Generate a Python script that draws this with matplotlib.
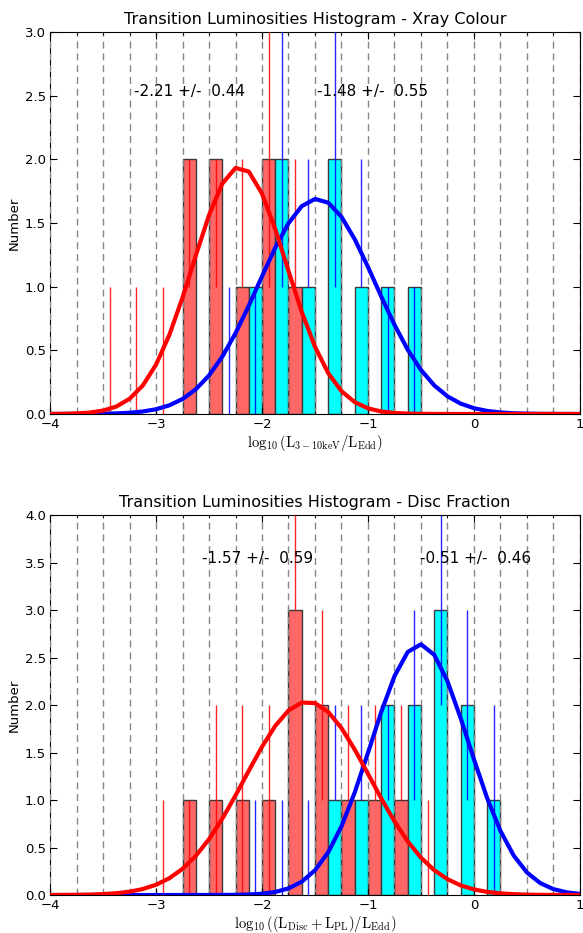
import numpy as np
import matplotlib.pyplot as plt
from matplotlib.ticker import MultipleLocator, FormatStrFormatter

plt.rcParams['mathtext.fontset'] = 'cm'
plt.rcParams['font.family'] = 'DejaVu Sans'

nan = np.nan

# ---- panel 1: x-ray colour ----
# left edges of the 0.25-wide bins and the counts in each half-bin
bins_xc = [-3.5, -3.25, -3.0, -2.75, -2.5, -2.25, -2.0, -1.75, -1.5, -1.25, -1.0, -0.75]
red_xc = [0, 0, 0, 2, 2, 1, 2, 1, 0, 0, 0, 0]
cyan_xc = [0, 0, 0, 0, 0, 1, 2, 1, 2, 1, 1, 1]
# vertical error lines (bottom / top) per half-bin
red_lo_xc = [0, 0, 0, 1, 1, 1, 1, 1, nan, nan, nan, nan]
red_hi_xc = [1, 1, 1, 2, 2, 2, 3, 2, nan, nan, nan, nan]
blue_lo_xc = [nan, nan, nan, nan, 0, 0, 1, 1, 1, 1, 0, 0]
blue_hi_xc = [nan, nan, nan, nan, 1, 1, 3, 2, 3, 2, 1, 1]
# gaussian fits: mean, sigma, amplitude
fit_red_xc = (-2.21, 0.44, 1.94)
fit_blue_xc = (-1.48, 0.55, 1.69)

# ---- panel 2: disc fraction ----
bins_df = [-3.0, -2.75, -2.5, -2.25, -2.0, -1.75, -1.5, -1.25, -1.0, -0.75, -0.5, -0.25, 0.0]
red_df = [0, 1, 1, 1, 1, 3, 2, 1, 1, 1, 0, 0, 0]
cyan_df = [0, 0, 0, 0, 0, 0, 1, 1, 2, 2, 3, 2, 1]
red_lo_df = [0, 0, 0, 0, 0, 3, 1, 1, 1, 1, 0, nan, nan]
red_hi_df = [1, 1, 2, 2, 2, 4, 3, 2, 2, 2, 1, nan, nan]
blue_lo_df = [nan, nan, nan, 0, 0, 0, 1, 1, 1, 1, 2, 1, 0]
blue_hi_df = [nan, nan, nan, 1, 1, 1, 2, 2, 2, 3, 4, 3, 2]
fit_red_df = (-1.57, 0.59, 2.035)
fit_blue_df = (-0.51, 0.46, 2.64)

BW = 0.25


def gauss(x, mu, sig, amp):
    return amp * np.exp(-0.5 * ((x - mu) / sig) ** 2)


def panel(ax, bins, red, cyan, rlo, rhi, blo, bhi, fr, fb, ymax, title, xlabel, txt_x, txt_y):
    bins = np.array(bins)
    red = np.array(red)
    cyan = np.array(cyan)
    m = red > 0
    ax.bar(bins[m], red[m], width=BW / 2, align='edge', color='#ff6666',
           edgecolor='#3a3a3a', lw=1, zorder=2)
    m = cyan > 0
    ax.bar(bins[m] + BW / 2, cyan[m], width=BW / 2, align='edge', color='#00ffff',
           edgecolor='#3a3a3a', lw=1, zorder=2)
    rlo, rhi = np.array(rlo, float), np.array(rhi, float)
    blo, bhi = np.array(blo, float), np.array(bhi, float)
    k = ~np.isnan(rlo)
    ax.vlines(bins[k] + BW / 4, rlo[k], rhi[k], color='red', lw=1, alpha=0.85, zorder=3)
    k = ~np.isnan(blo)
    ax.vlines(bins[k] + 3 * BW / 4, blo[k], bhi[k], color='blue', lw=1, alpha=0.85, zorder=3)

    xs = np.arange(-4, 1.0001, 0.125)
    ax.plot(xs, gauss(xs, *fb), color='blue', lw=3, zorder=4)
    ax.plot(xs, gauss(xs, *fr), color='red', lw=3, zorder=5)

    ax.text(txt_x[0], txt_y, '%.2f +/-  %.2f' % (fr[0], fr[1]), fontsize=11, zorder=6)
    ax.text(txt_x[1], txt_y, '%.2f +/-  %.2f' % (fb[0], fb[1]), fontsize=11, zorder=6)

    ax.set_xlim(-4, 1)
    ax.set_ylim(0, ymax)
    ax.xaxis.set_major_locator(MultipleLocator(1))
    ax.xaxis.set_minor_locator(MultipleLocator(0.25))
    ax.yaxis.set_major_locator(MultipleLocator(0.5))
    ax.yaxis.set_major_formatter(FormatStrFormatter('%.1f'))
    ax.grid(True, which='both', axis='x', ls=(0, (5, 3.5)), color='#888888', lw=1, zorder=3.5)
    ax.tick_params(which='both', direction='in', top=True, right=True, labelsize=9.5, pad=3)
    ax.tick_params(which='major', length=5)
    ax.tick_params(which='minor', length=2.5)
    ax.set_axisbelow(False)
    ax.set_title(title, fontsize=11.5, pad=6)
    ax.set_xlabel(xlabel, fontsize=10.5, labelpad=1)
    ax.set_ylabel('Number', fontsize=9.5, labelpad=3)


fig = plt.figure(figsize=(5.83, 9.33), dpi=100)
ax1 = fig.add_axes([0.0858, 0.5563, 0.909, 0.4094])
ax2 = fig.add_axes([0.0858, 0.0407, 0.909, 0.4073])

panel(ax1, bins_xc, red_xc, cyan_xc, red_lo_xc, red_hi_xc, blue_lo_xc, blue_hi_xc,
      fit_red_xc, fit_blue_xc, 3.0, 'Transition Luminosities Histogram - Xray Colour',
      r'$\log_{10}(\mathrm{L}_{3-10\mathrm{keV}}/\mathrm{L}_{\mathrm{Edd}})$',
      (-3.21, -1.48), 2.5)
panel(ax2, bins_df, red_df, cyan_df, red_lo_df, red_hi_df, blue_lo_df, blue_hi_df,
      fit_red_df, fit_blue_df, 4.0, 'Transition Luminosities Histogram - Disc Fraction',
      r'$\log_{10}((\mathrm{L}_{\mathrm{Disc}}+\mathrm{L}_{\mathrm{PL}})/\mathrm{L}_{\mathrm{Edd}})$',
      (-2.57, -0.51), 3.5)

fig.savefig('out.png', dpi=100)
